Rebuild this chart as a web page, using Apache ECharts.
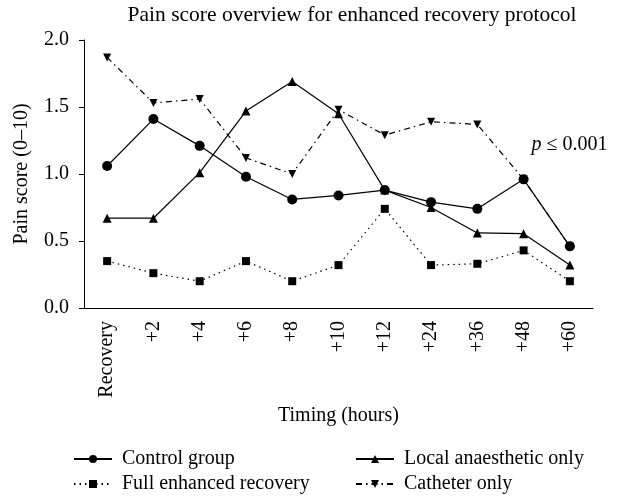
<!DOCTYPE html>
<html>
<head>
<meta charset="utf-8">
<script src="https://cdn.jsdelivr.net/npm/echarts@6/dist/echarts.min.js"></script>
<style>
html,body{margin:0;padding:0;background:#fff;}
#chart{width:619px;height:496px;}
</style>
</head>
<body>
<div id="chart"></div>
<script>
const categories = ['Recovery', '+2', '+4', '+6', '+8', '+10', '+12', '+24', '+36', '+48', '+60'];
const controlGroup = [1.06, 1.41, 1.21, 0.98, 0.81, 0.84, 0.88, 0.79, 0.74, 0.96, 0.46];
const localAnaesthetic = [0.67, 0.67, 1.01, 1.47, 1.69, 1.45, 0.88, 0.75, 0.56, 0.555, 0.32];
const fullEnhanced = [0.35, 0.26, 0.20, 0.35, 0.20, 0.32, 0.74, 0.32, 0.33, 0.43, 0.20];
const catheterOnly = [1.87, 1.53, 1.56, 1.12, 1.00, 1.48, 1.29, 1.39, 1.37, 0.96, 0.46];
const yMin = 0, yMax = 2, yInterval = 0.5;
const titleText = 'Pain score overview for enhanced recovery protocol';
const seriesNames = ['Control group', 'Local anaesthetic only', 'Full enhanced recovery', 'Catheter only'];

const FONT = 'Liberation Serif';
const chart = echarts.init(document.getElementById('chart'), null, {renderer: 'canvas'});

function lineSeries(name, data, symbol, size, lineType, rotate, z) {
  return {
    name: name, type: 'line', data: data,
    symbol: symbol, symbolSize: size, symbolRotate: rotate || 0,
    showAllSymbol: true,
    z: z,
    lineStyle: {color: '#000', width: 1.2, type: lineType},
    itemStyle: {color: '#000', borderWidth: 0},
    emphasis: {disabled: true},
    animation: false
  };
}

// legend keys (icons) drawn by the library; their labels are added as serif text below
const legendSlots = [
  {name: seriesNames[0], left: 73, top: 454},
  {name: seriesNames[1], left: 355, top: 454},
  {name: seriesNames[2], left: 73, top: 479},
  {name: seriesNames[3], left: 355, top: 479}
];

chart.setOption({
  animation: false,
  backgroundColor: '#fff',
  textStyle: {fontFamily: FONT, color: '#000'},
  grid: {left: 84, right: 26, top: 40, bottom: 188, containLabel: false},
  legend: legendSlots.map(s => ({
    data: [s.name], left: s.left, top: s.top, orient: 'horizontal',
    itemWidth: 38, itemHeight: 10, padding: 0,
    formatter: () => '', selectedMode: false
  })),
  xAxis: {
    type: 'category', data: categories, boundaryGap: true,
    name: 'Timing (hours)', nameLocation: 'middle', nameGap: 93,
    nameTextStyle: {fontFamily: FONT, fontSize: 20, color: '#000'},
    axisLine: {lineStyle: {color: '#000', width: 1}},
    axisTick: {alignWithLabel: true, length: 5, lineStyle: {color: '#000'}},
    axisLabel: {rotate: 90, margin: 13, fontFamily: FONT, fontSize: 20, color: '#000', interval: 0},
    splitLine: {show: false}
  },
  yAxis: {
    type: 'value', min: yMin, max: yMax, interval: yInterval,
    name: 'Pain score (0\u201310)', nameLocation: 'middle', nameGap: 52,
    nameTextStyle: {fontFamily: FONT, fontSize: 20, color: '#000'},
    axisLine: {show: true, lineStyle: {color: '#000', width: 1}},
    axisTick: {show: true, length: 5, lineStyle: {color: '#000'}},
    axisLabel: {margin: 15, fontFamily: FONT, fontSize: 20, color: '#000', formatter: v => v.toFixed(1)},
    splitLine: {show: false}
  },
  series: [
    lineSeries(seriesNames[2], fullEnhanced, 'rect', 8, [1.5, 4], 0, 2),
    lineSeries(seriesNames[3], catheterOnly, 'triangle', 8, [6, 4, 1.5, 4], 180, 3),
    lineSeries(seriesNames[1], localAnaesthetic, 'triangle', 9, 'solid', 0, 4),
    lineSeries(seriesNames[0], controlGroup, 'circle', 10, 'solid', 0, 5)
  ]
});

// annotations: title centred over the plot, p-value next to the +48 point, legend labels
const anchor = chart.convertToPixel({xAxisIndex: 0, yAxisIndex: 0}, [9, 1.22]);
const legendLabels = legendSlots.map(s => ({
  type: 'text', x: s.left + 38 + 11, y: s.top + 5,
  style: {text: s.name, font: '20px "Liberation Serif"', fill: '#000', align: 'left', verticalAlign: 'middle'}
}));
chart.setOption({
  graphic: [
    {type: 'text', x: 352, y: 15, style: {
      text: titleText, font: '21.5px "Liberation Serif"', fill: '#000',
      align: 'center', verticalAlign: 'middle'
    }},
    {type: 'text', x: anchor[0] + 46, y: anchor[1], style: {
      text: '{i|p} \u2264 0.001', align: 'center', verticalAlign: 'middle',
      font: '20px "Liberation Serif"', fill: '#000',
      rich: {i: {fontStyle: 'italic', fontFamily: FONT, fontSize: 20}}
    }}
  ].concat(legendLabels)
});
</script>
</body>
</html>
